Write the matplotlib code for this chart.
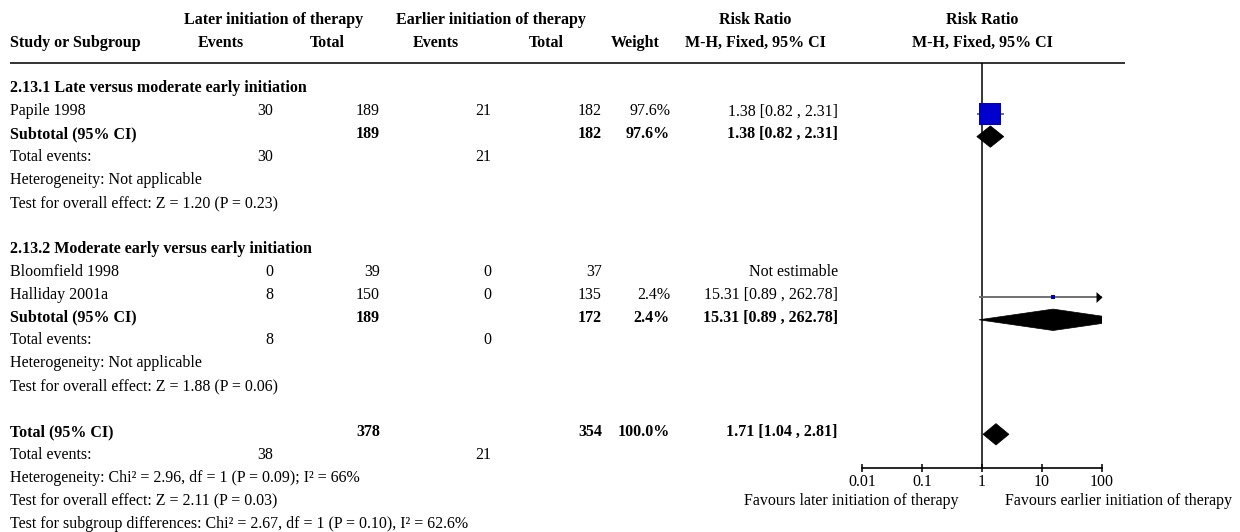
import math
import matplotlib
matplotlib.use("Agg")
import matplotlib.pyplot as plt
from matplotlib.patches import Polygon

# ---------------------------------------------------------------- data
group_titles = ["2.13.1 Late versus moderate early initiation",
                "2.13.2 Moderate early versus early initiation"]

# studies per subgroup
study_names = [["Papile 1998"], ["Bloomfield 1998", "Halliday 2001a"]]
later_events = [[30], [0, 8]]
later_total = [[189], [39, 150]]
earlier_events = [[21], [0, 0]]
earlier_total = [[182], [37, 135]]
study_weight = [[97.6], [None, 2.4]]
study_rr = [[1.38], [None, 15.31]]
study_lo = [[0.82], [None, 0.89]]
study_hi = [[2.31], [None, 262.78]]

# subtotals
sub_later_total = [189, 189]
sub_earlier_total = [182, 172]
sub_later_events = [30, 8]
sub_earlier_events = [21, 0]
sub_weight = [97.6, 2.4]
sub_rr = [1.38, 15.31]
sub_lo = [0.82, 0.89]
sub_hi = [2.31, 262.78]
sub_heterogeneity = ["Heterogeneity: Not applicable",
                     "Heterogeneity: Not applicable"]
sub_effect = ["Test for overall effect: Z = 1.20 (P = 0.23)",
              "Test for overall effect: Z = 1.88 (P = 0.06)"]

# overall
tot_later_total = 378
tot_earlier_total = 354
tot_later_events = 38
tot_earlier_events = 21
tot_weight = 100.0
tot_rr = 1.71
tot_lo = 1.04
tot_hi = 2.81
tot_heterogeneity = "Heterogeneity: Chi² = 2.96, df = 1 (P = 0.09); I² = 66%"
tot_effect = "Test for overall effect: Z = 2.11 (P = 0.03)"
subgroup_diff = "Test for subgroup differences: Chi² = 2.67, df = 1 (P = 0.10), I² = 62.6%"

axis_ticks = [0.01, 0.1, 1, 10, 100]
axis_ticklabels = ["0.01", "0.1", "1", "10", "100"]
favours_left = "Favours later initiation of therapy"
favours_right = "Favours earlier initiation of therapy"

# ---------------------------------------------------------------- style
plt.rcParams["font.family"] = ["Liberation Serif", "DejaVu Serif"]
FS = 11.5
BLUE = "#0000CC"
CI_GREY = "#666666"

W, H = 1240, 532
fig = plt.figure(figsize=(W / 100, H / 100), dpi=100)

# text layer in pixel units
bg = fig.add_axes([0, 0, 1, 1])
bg.set_xlim(0, W)
bg.set_ylim(H, 0)
bg.axis("off")

# forest panel: log risk-ratio scale
X0, X1, YT, YB = 862, 1102, 63, 468
fx = fig.add_axes([X0 / W, (H - YB) / H, (X1 - X0) / W, (YB - YT) / H])
fx.set_xscale("log")
fx.set_xlim(axis_ticks[0], axis_ticks[-1])
fx.set_ylim(YB, YT)
fx.patch.set_alpha(0)
for s in ("top", "left", "right"):
    fx.spines[s].set_visible(False)
fx.spines["bottom"].set_linewidth(1.2)
fx.set_yticks([])
fx.set_xticks(axis_ticks)
fx.set_xticklabels(axis_ticklabels)
fx.minorticks_off()
fx.tick_params(axis="x", direction="inout", length=6, width=1.1,
               labelsize=FS, pad=1.0)
fx.axvline(1, color="black", lw=1.1, zorder=1)

# column anchors (pixels)
C_NAME = 10
C_EV1, C_TOT1, C_EV2, C_TOT2, C_W, C_RR = 273.5, 380, 491, 602, 670, 838

ROW0, STEP = 87.3, 22.9
BASE = 5.2      # baseline offset below the row centre
MARK = 3.5      # marker offset below the row centre

# right-pointing arrow head with its tip on the marker position
ARROW = [(0, 0), (-0.55, 0.5), (-0.55, -0.5), (0, 0)]


def row_y(i):
    return ROW0 + STEP * i


def put(x, y, s, ha="left", bold=False):
    bg.text(x, y + BASE, s, ha=ha, va="baseline", fontsize=FS,
            fontweight="bold" if bold else "normal")


def fmt_ci(r, lo, hi):
    return f"{r:.2f} [{lo:.2f} , {hi:.2f}]"


def draw_diamond(r, lo, hi, y, half=10.7):
    fx.add_patch(Polygon([(lo, y), (r, y - half), (hi, y), (r, y + half)],
                         closed=True, facecolor="black", edgecolor="black",
                         lw=0.5, zorder=3))


def draw_study(r, lo, hi, w, y):
    fx.plot([lo, hi], [y, y], color=CI_GREY, lw=1.3, zorder=2,
            solid_capstyle="butt")
    side_px = 21.3 * math.sqrt(w / 100.0)
    fx.plot([r], [y], marker="s", ms=side_px * 0.72, color=BLUE,
            mec=BLUE, mew=0, zorder=3)
    if hi > axis_ticks[-1]:
        fx.plot([axis_ticks[-1]], [y], marker=ARROW, ms=8.6, color="black",
                mew=0, clip_on=False, zorder=4)


# ---------------------------------------------------------------- header
hy1, hy2 = 19.0, 42.0
bg.text(274, hy1 + BASE, "Later initiation of therapy", ha="center",
        va="baseline", fontsize=FS, fontweight="bold")
bg.text(491, hy1 + BASE, "Earlier initiation of therapy", ha="center",
        va="baseline", fontsize=FS, fontweight="bold")
bg.text(755, hy1 + BASE, "Risk Ratio", ha="center", va="baseline",
        fontsize=FS, fontweight="bold")
bg.text(982, hy1 + BASE, "Risk Ratio", ha="center", va="baseline",
        fontsize=FS, fontweight="bold")
put(C_NAME, hy2, "Study or Subgroup", bold=True)
put(221, hy2, "Events", ha="center", bold=True)
put(327, hy2, "Total", ha="center", bold=True)
put(435.5, hy2, "Events", ha="center", bold=True)
put(546.5, hy2, "Total", ha="center", bold=True)
put(659.5, hy2, "Weight", ha="right", bold=True)
put(755, hy2, "M-H, Fixed, 95% CI", ha="center", bold=True)
put(982, hy2, "M-H, Fixed, 95% CI", ha="center", bold=True)
bg.plot([10, 1125], [63, 63], color="#222222", lw=1.3,
        solid_capstyle="butt")

# ---------------------------------------------------------------- body
i = 0
for g in range(len(group_titles)):
    put(C_NAME, row_y(i), group_titles[g], bold=True)
    i += 1
    for k, name in enumerate(study_names[g]):
        y = row_y(i)
        put(C_NAME, y, name)
        put(C_EV1, y, str(later_events[g][k]), ha="right")
        put(C_TOT1, y, str(later_total[g][k]), ha="right")
        put(C_EV2, y, str(earlier_events[g][k]), ha="right")
        put(C_TOT2, y, str(earlier_total[g][k]), ha="right")
        if study_rr[g][k] is None:
            put(C_RR, y, "Not estimable", ha="right")
        else:
            put(C_W, y, f"{study_weight[g][k]:.1f}%", ha="right")
            put(C_RR, y, fmt_ci(study_rr[g][k], study_lo[g][k],
                                study_hi[g][k]), ha="right")
            draw_study(study_rr[g][k], study_lo[g][k], study_hi[g][k],
                       study_weight[g][k], y + MARK)
        i += 1
    y = row_y(i)
    put(C_NAME, y, "Subtotal (95% CI)", bold=True)
    put(C_TOT1, y, str(sub_later_total[g]), ha="right", bold=True)
    put(C_TOT2, y, str(sub_earlier_total[g]), ha="right", bold=True)
    put(C_W, y, f"{sub_weight[g]:.1f}%", ha="right", bold=True)
    put(C_RR, y, fmt_ci(sub_rr[g], sub_lo[g], sub_hi[g]), ha="right",
        bold=True)
    draw_diamond(sub_rr[g], sub_lo[g], sub_hi[g], y + MARK)
    i += 1
    y = row_y(i)
    put(C_NAME, y, "Total events:")
    put(C_EV1, y, str(sub_later_events[g]), ha="right")
    put(C_EV2, y, str(sub_earlier_events[g]), ha="right")
    i += 1
    put(C_NAME, row_y(i), sub_heterogeneity[g])
    i += 1
    put(C_NAME, row_y(i), sub_effect[g])
    i += 2

y = row_y(i)
put(C_NAME, y, "Total (95% CI)", bold=True)
put(C_TOT1, y, str(tot_later_total), ha="right", bold=True)
put(C_TOT2, y, str(tot_earlier_total), ha="right", bold=True)
put(C_W, y, f"{tot_weight:.1f}%", ha="right", bold=True)
put(C_RR, y, fmt_ci(tot_rr, tot_lo, tot_hi), ha="right", bold=True)
draw_diamond(tot_rr, tot_lo, tot_hi, y + MARK)
i += 1
y = row_y(i)
put(C_NAME, y, "Total events:")
put(C_EV1, y, str(tot_later_events), ha="right")
put(C_EV2, y, str(tot_earlier_events), ha="right")
i += 1
put(C_NAME, row_y(i), tot_heterogeneity)
i += 1
put(C_NAME, row_y(i), tot_effect)
fav_y = row_y(i)
i += 1
put(C_NAME, row_y(i), subgroup_diff)

# favours labels under the axis
put(958, fav_y, favours_left, ha="right")
put(1005, fav_y, favours_right, ha="left")

fig.savefig("out.png", dpi=100)
